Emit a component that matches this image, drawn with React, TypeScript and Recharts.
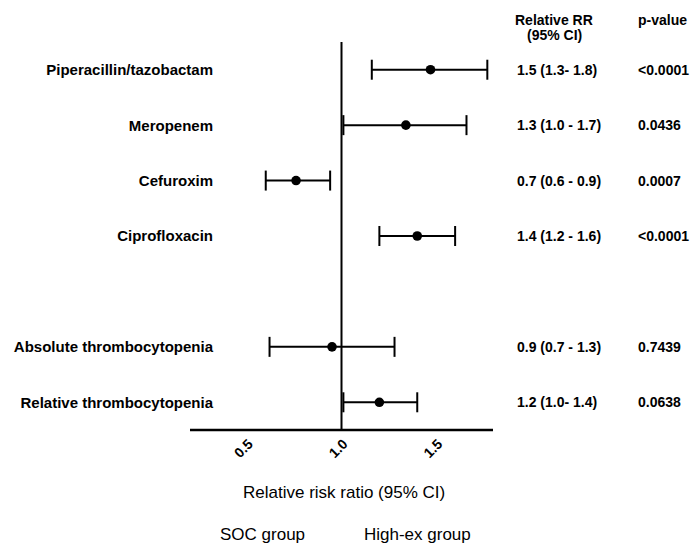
import React from "react";
import {
  ScatterChart,
  Scatter,
  XAxis,
  YAxis,
  ErrorBar,
  ReferenceLine,
} from "recharts";

// outcomes, top to bottom (row 4 is an empty gap)
const labels = [
  "Piperacillin/tazobactam",
  "Meropenem",
  "Cefuroxim",
  "Ciprofloxacin",
  "Absolute thrombocytopenia",
  "Relative thrombocytopenia",
];
const rows = [0, 1, 2, 3, 5, 6];

// plotted estimates and 95% CI as drawn
const rr = [1.47, 1.34, 0.76, 1.4, 0.95, 1.2];
const ciLow = [1.16, 1.01, 0.6, 1.2, 0.62, 1.01];
const ciHigh = [1.77, 1.66, 0.94, 1.6, 1.28, 1.4];

// printed columns
const rrText = [
  "1.5 (1.3- 1.8)",
  "1.3 (1.0 - 1.7)",
  "0.7 (0.6 - 0.9)",
  "1.4 (1.2 - 1.6)",
  "0.9 (0.7 - 1.3)",
  "1.2 (1.0- 1.4)",
];
const pText = ["<0.0001", "0.0436", "0.0007", "<0.0001", "0.7439", "0.0638"];

const xTicks = [0.5, 1.0, 1.5];

const data = rows.map((row, i) => ({
  y: row,
  x: rr[i],
  err: [rr[i] - ciLow[i], ciHigh[i] - rr[i]],
}));

const font = '"Liberation Sans", Arial, sans-serif';

function LeftTick(props: any) {
  const { x, y, payload } = props;
  const i = rows.indexOf(payload.value);
  if (i < 0) return null;
  return (
    <text
      x={x + 31}
      y={y}
      dy="0.36em"
      textAnchor="end"
      fontFamily={font}
      fontSize={15}
      fontWeight="bold"
      fill="#000"
    >
      {labels[i]}
    </text>
  );
}

function RightTick(props: any) {
  const { x, y, payload } = props;
  const i = rows.indexOf(payload.value);
  if (i < 0) return null;
  return (
    <g fontFamily={font} fontSize={14} fontWeight="bold" fill="#000">
      <text x={x + 16} y={y} dy="0.36em">
        {rrText[i]}
      </text>
      <text x={x + 137} y={y} dy="0.36em">
        {pText[i]}
      </text>
    </g>
  );
}

const txt = (size: number, bold = false): React.CSSProperties => ({
  position: "absolute",
  fontFamily: font,
  fontSize: size,
  fontWeight: bold ? "bold" : "normal",
  lineHeight: `${size}px`,
  whiteSpace: "nowrap",
  color: "#000",
});

export default function App() {
  return (
    <div
      style={{
        position: "absolute",
        left: 0,
        top: 0,
        width: 694,
        height: 544,
        overflow: "hidden",
        background: "#fff",
      }}
    >
      <ScatterChart
        width={694}
        height={544}
        margin={{ top: 42, right: 0, bottom: 84, left: 0 }}
      >
        <XAxis
          type="number"
          dataKey="x"
          domain={[0.2, 1.8]}
          ticks={xTicks}
          tickFormatter={(v: number) => v.toFixed(1)}
          axisLine={{ stroke: "#000", strokeWidth: 2.5 }}
          tickLine={false}
          angle={-45}
          textAnchor="end"
          tick={{ fill: "#000", fontSize: 14, fontWeight: "bold", fontFamily: font }}
          height={30}
        />
        <YAxis
          yAxisId="l"
          type="number"
          dataKey="y"
          domain={[-0.5, 6.5]}
          reversed
          ticks={rows}
          width={190}
          axisLine={false}
          tickLine={false}
          tick={<LeftTick />}
        />
        <YAxis
          yAxisId="r"
          orientation="right"
          type="number"
          dataKey="y"
          domain={[-0.5, 6.5]}
          reversed
          ticks={rows}
          width={201}
          axisLine={false}
          tickLine={false}
          tick={<RightTick />}
        />
        <ReferenceLine yAxisId="l" x={1} stroke="#000" strokeWidth={2} />
        <Scatter
          yAxisId="l"
          data={data}
          isAnimationActive={false}
          shape={(p: any) => <circle cx={p.cx} cy={p.cy} r={4.8} fill="#000" />}
        >
          <ErrorBar
            dataKey="err"
            direction="x"
            width={10}
            stroke="#000"
            strokeWidth={2}
            isAnimationActive={false}
          />
        </Scatter>
        <Scatter yAxisId="r" data={data} isAnimationActive={false} shape={() => null} />
      </ScatterChart>

      <div style={{ ...txt(14, true), left: 515, top: 13 }}>Relative RR</div>
      <div style={{ ...txt(14, true), left: 527, top: 28 }}>(95% CI)</div>
      <div style={{ ...txt(14, true), left: 638, top: 13 }}>p-value</div>

      <div style={{ ...txt(17), left: 243, top: 484 }}>Relative risk ratio (95% CI)</div>
      <div style={{ ...txt(17), left: 220, top: 526 }}>SOC group</div>
      <div style={{ ...txt(17), left: 364, top: 526 }}>High-ex group</div>
    </div>
  );
}
